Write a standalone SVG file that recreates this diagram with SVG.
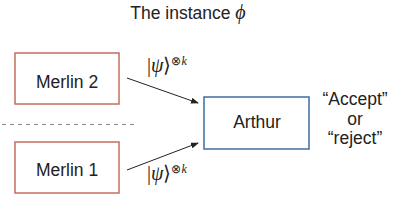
<svg xmlns="http://www.w3.org/2000/svg" width="400" height="211" viewBox="0 0 400 211">
<style>
.t{font-family:"Liberation Sans",Arial,sans-serif;fill:#222;font-size:17.5px}
.m{font-family:"Liberation Serif","Times New Roman",serif;fill:#222}
.merlin{fill:#fff;stroke:#c46e5e;stroke-width:1.5}
.arthur{fill:#fff;stroke:#3d6fa3;stroke-width:1.5}
.conn{stroke:#222;stroke-width:1;fill:none;marker-end:url(#ah)}
</style>
<defs>
<marker id="ah" markerWidth="8" markerHeight="6" refX="7" refY="3" orient="auto" markerUnits="userSpaceOnUse">
<path d="M0,0 L8,3 L0,6 z" fill="#222"/>
</marker>
</defs>
<rect width="400" height="211" fill="#fff"/>
<text class="t" x="188" y="19" text-anchor="middle">The instance <tspan class="m" font-style="italic" font-size="20">ϕ</tspan></text>
<line x1="2" y1="124.5" x2="138" y2="124.5" stroke="#888" stroke-width="1" stroke-dasharray="4,4"/>
<g id="merlin2">
<rect class="merlin" x="15" y="53" width="104" height="51"/>
<text class="t" x="67" y="88" text-anchor="middle">Merlin 2</text>
</g>
<g id="merlin1">
<rect class="merlin" x="15" y="142" width="104" height="51"/>
<text class="t" x="67" y="176" text-anchor="middle">Merlin 1</text>
</g>
<g id="arthur">
<rect class="arthur" x="204" y="97" width="105" height="52"/>
<text class="t" x="257" y="128" text-anchor="middle">Arthur</text>
</g>
<g id="result">
<text class="t" x="355" y="105" text-anchor="middle">“Accept”</text>
<text class="t" x="355" y="125" text-anchor="middle">or</text>
<text class="t" x="355" y="144" text-anchor="middle">“reject”</text>
</g>
<g id="connectors">
<line class="conn" x1="127" y1="78" x2="198" y2="103"/>
<line class="conn" x1="127" y1="170" x2="198" y2="143"/>
<text class="m" x="147" y="72" font-size="20">|<tspan font-style="italic">ψ</tspan>⟩<tspan font-size="12" dy="-7">⊗<tspan font-style="italic">k</tspan></tspan></text>
<text class="m" x="147" y="180" font-size="20">|<tspan font-style="italic">ψ</tspan>⟩<tspan font-size="12" dy="-7">⊗<tspan font-style="italic">k</tspan></tspan></text>
</g>
</svg>
